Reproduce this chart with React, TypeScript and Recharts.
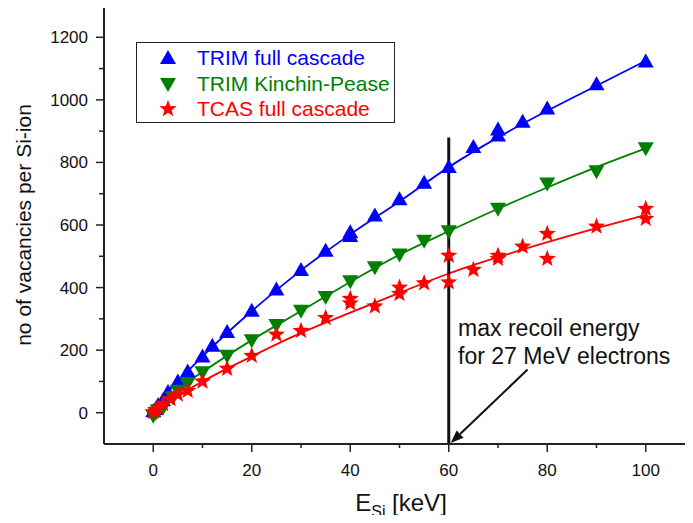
import React from "react";
import {
  ComposedChart,
  Line,
  Scatter,
  XAxis,
  YAxis,
  ReferenceLine,
  ReferenceDot,
  Legend,
} from "recharts";

// TRIM full cascade (triangles up)
const trimFullX = [0, 0.5, 1, 2, 3, 5, 7, 10, 12, 15, 20, 25, 30, 35, 40, 40, 45, 50, 55, 60, 65, 70, 70, 75, 80, 90, 100];
const trimFullY = [5, 12, 25, 40, 66, 100, 132, 180, 214, 258, 326, 394, 456, 518, 577, 565, 630, 682, 735, 785, 849, 905, 886, 930, 972, 1050, 1123];

// TRIM Kinchin-Pease (triangles down)
const trimKpX = [0, 0.5, 1, 2, 4, 5, 7, 10, 15, 20, 25, 30, 35, 40, 45, 50, 55, 60, 70, 80, 90, 100];
const trimKpY = [-10, 0, 8, 17, 49, 70, 95, 129, 182, 232, 280, 326, 370, 420, 465, 506, 550, 580, 652, 733, 772, 845];

// TCAS full cascade (stars)
const tcasX = [0, 0.5, 1, 2, 3.5, 5, 7, 10, 15, 20, 25, 30, 35, 40, 40, 45, 50, 50, 55, 60, 60, 65, 70, 70, 75, 80, 80, 90, 100, 100];
const tcasY = [2, 8, 15, 28, 44, 58, 70, 100, 141, 182, 250, 262, 303, 364, 350, 340, 400, 380, 414, 502, 417, 457, 502, 492, 531, 572, 492, 595, 652, 620];

// fitted curves
const fitX = [0, 2, 5, 10, 20, 30, 40, 50, 60, 70, 80, 90, 100];
const fitFullY = [0, 50, 100, 180, 325, 455, 570, 675, 785, 880, 965, 1045, 1125];
const fitKpY = [0, 28, 75, 130, 232, 325, 418, 505, 580, 652, 720, 785, 845];
const fitTcasY = [0, 25, 55, 100, 180, 255, 320, 383, 445, 497, 545, 590, 632];

const xTicks = [0, 10, 20, 30, 40, 50, 60, 70, 80, 90, 100];
const yTicks = [0, 100, 200, 300, 400, 500, 600, 700, 800, 900, 1000, 1100, 1200];

const BLUE = "#0000ff";
const GREEN = "#008000";
const RED = "#ff0000";
const FONT = "'Liberation Sans', Arial, sans-serif";

const zip = (xs: number[], ys: number[]) => xs.map((x, i) => ({ x, y: ys[i] }));

const trimFull = zip(trimFullX, trimFullY);
const trimKp = zip(trimKpX, trimKpY);
const tcas = zip(tcasX, tcasY);
const fitFull = zip(fitX, fitFullY);
const fitKp = zip(fitX, fitKpY);
const fitTcas = zip(fitX, fitTcasY);

const TriUp = ({ cx, cy, fill }: any) => (
  <polygon points={`${cx},${cy - 8} ${cx - 8},${cy + 6} ${cx + 8},${cy + 6}`} fill={fill} />
);
const TriDown = ({ cx, cy, fill }: any) => (
  <polygon points={`${cx},${cy + 8} ${cx - 8},${cy - 6} ${cx + 8},${cy - 6}`} fill={fill} />
);
const Star = ({ cx, cy, fill }: any) => {
  const pts: string[] = [];
  for (let i = 0; i < 10; i++) {
    const r = i % 2 === 0 ? 9 : 3.8;
    const a = -Math.PI / 2 + (i * Math.PI) / 5;
    pts.push(`${cx + r * Math.cos(a)},${cy + r * Math.sin(a)}`);
  }
  return <polygon points={pts.join(" ")} fill={fill} />;
};

const BottomTick = ({ x, y, payload }: any) => {
  const major = payload.value % 20 === 0;
  return (
    <g>
      <line x1={x} y1={y} x2={x} y2={y + (major ? 8 : 4)} stroke="#222" strokeWidth={1.5} />
      {major && (
        <text x={x} y={y + 32} textAnchor="middle" fontSize={17} fontFamily={FONT} fill="#111">
          {payload.value}
        </text>
      )}
    </g>
  );
};

const TopTick = ({ x, y, payload }: any) => {
  const major = payload.value % 20 === 0;
  return <line x1={x} y1={y} x2={x} y2={y - (major ? 7 : 4)} stroke="#222" strokeWidth={1.5} />;
};

const LeftTick = ({ x, y, payload }: any) => {
  const major = payload.value % 200 === 0;
  return (
    <g>
      <line x1={x} y1={y} x2={x - (major ? 8 : 5)} y2={y} stroke="#222" strokeWidth={1.5} />
      {major && (
        <text x={x - 16} y={y + 6} textAnchor="end" fontSize={17} fontFamily={FONT} fill="#111">
          {payload.value}
        </text>
      )}
    </g>
  );
};

const legendItems = [
  { name: "TRIM full cascade", color: BLUE, Shape: TriUp },
  { name: "TRIM Kinchin-Pease", color: GREEN, Shape: TriDown },
  { name: "TCAS full cascade", color: RED, Shape: Star },
];

const LegendBox = () => (
  <div
    style={{
      border: "1px solid #222",
      width: 259,
      height: 81,
      boxSizing: "border-box",
      background: "#fff",
      fontFamily: FONT,
      fontSize: 21,
      paddingTop: 2,
    }}
  >
    {legendItems.map(({ name, color, Shape }) => (
      <div key={name} style={{ display: "flex", alignItems: "center", height: 25.7 }}>
        <svg width={60} height={22} style={{ flex: "none" }}>
          <Shape cx={31} cy={11} fill={color} />
        </svg>
        <span style={{ color, whiteSpace: "nowrap" }}>{name}</span>
      </div>
    ))}
  </div>
);

const ArrowShape = (p: any) => {
  const { x1, y1, x2, y2 } = p;
  const ang = Math.atan2(y2 - y1, x2 - x1);
  const L = 13;
  const W = 5;
  const bx = x2 - L * Math.cos(ang);
  const by = y2 - L * Math.sin(ang);
  const nx = -Math.sin(ang);
  const ny = Math.cos(ang);
  return (
    <g>
      <line x1={x1} y1={y1} x2={bx} y2={by} stroke="#111" strokeWidth={2} />
      <polygon
        points={`${x2},${y2} ${bx + W * nx},${by + W * ny} ${bx - W * nx},${by - W * ny}`}
        fill="#111"
      />
    </g>
  );
};

const NoteText = ({ cx, cy }: any) => (
  <text x={cx} y={cy} fontSize={23} fontFamily={FONT} fill="#111">
    <tspan x={cx}>max recoil energy</tspan>
    <tspan x={cx} dy={28}>for 27 MeV electrons</tspan>
  </text>
);

export default function App() {
  return (
    <div style={{ position: "relative", margin: -8, width: 693, height: 523, overflow: "hidden", background: "#fff" }}>
      <ComposedChart width={700} height={523} margin={{ top: 0, right: 5, bottom: 0, left: 44 }}>
        <XAxis
          xAxisId="top"
          orientation="top"
          type="number"
          dataKey="x"
          domain={[-10, 110]}
          ticks={xTicks}
          height={6}
          tickSize={0}
          tickMargin={0}
          tickLine={false}
          tick={<TopTick />}
          axisLine={{ stroke: "#222", strokeWidth: 2 }}
          allowDataOverflow
        />
        <XAxis
          type="number"
          dataKey="x"
          domain={[-10, 110]}
          ticks={xTicks}
          height={79}
          tickSize={0}
          tickMargin={0}
          tickLine={false}
          tick={<BottomTick />}
          axisLine={{ stroke: "#222", strokeWidth: 2 }}
          allowDataOverflow
          label={{
            content: () => (
              <text x={401} y={511} textAnchor="middle" fontSize={24} fontFamily={FONT} fill="#111">
                E
                <tspan fontSize={16} dy={6}>Si</tspan>
                <tspan dy={-6}> [keV]</tspan>
              </text>
            ),
          }}
        />
        <YAxis
          type="number"
          dataKey="y"
          domain={[-100, 1300]}
          ticks={yTicks}
          width={60}
          tickSize={0}
          tickMargin={0}
          tickLine={false}
          tick={<LeftTick />}
          axisLine={{ stroke: "#222", strokeWidth: 2 }}
          allowDataOverflow
          label={{
            content: () => (
              <text
                x={31}
                y={225}
                transform="rotate(-90 31 225)"
                textAnchor="middle"
                fontSize={21}
                fontFamily={FONT}
                fill="#111"
              >
                no of vacancies per Si-ion
              </text>
            ),
          }}
        />

        <Line data={fitFull} dataKey="y" type="monotone" stroke={BLUE} strokeWidth={1.8} dot={false} isAnimationActive={false} legendType="none" />
        <Line data={fitKp} dataKey="y" type="monotone" stroke={GREEN} strokeWidth={1.8} dot={false} isAnimationActive={false} legendType="none" />
        <Line data={fitTcas} dataKey="y" type="monotone" stroke={RED} strokeWidth={1.8} dot={false} isAnimationActive={false} legendType="none" />

        <Scatter name="TRIM full cascade" data={trimFull} dataKey="y" fill={BLUE} shape={<TriUp />} isAnimationActive={false} />
        <Scatter name="TRIM Kinchin-Pease" data={trimKp} dataKey="y" fill={GREEN} shape={<TriDown />} isAnimationActive={false} />
        <Scatter name="TCAS full cascade" data={tcas} dataKey="y" fill={RED} shape={<Star />} isAnimationActive={false} />

        <ReferenceLine segment={[{ x: 60, y: 880 }, { x: 60, y: -100 }]} stroke="#111" strokeWidth={3} />
        <ReferenceLine segment={[{ x: 76, y: 138 }, { x: 60.4, y: -97 }]} shape={<ArrowShape />} />
        <ReferenceDot x={61.9} y={246} r={0} shape={<NoteText />} />

        <Legend
          layout="horizontal"
          verticalAlign="middle"
          align="center"
          wrapperStyle={{ top: 42, left: 136, width: 259, height: 81 }}
          content={() => <LegendBox />}
        />
      </ComposedChart>
    </div>
  );
}
